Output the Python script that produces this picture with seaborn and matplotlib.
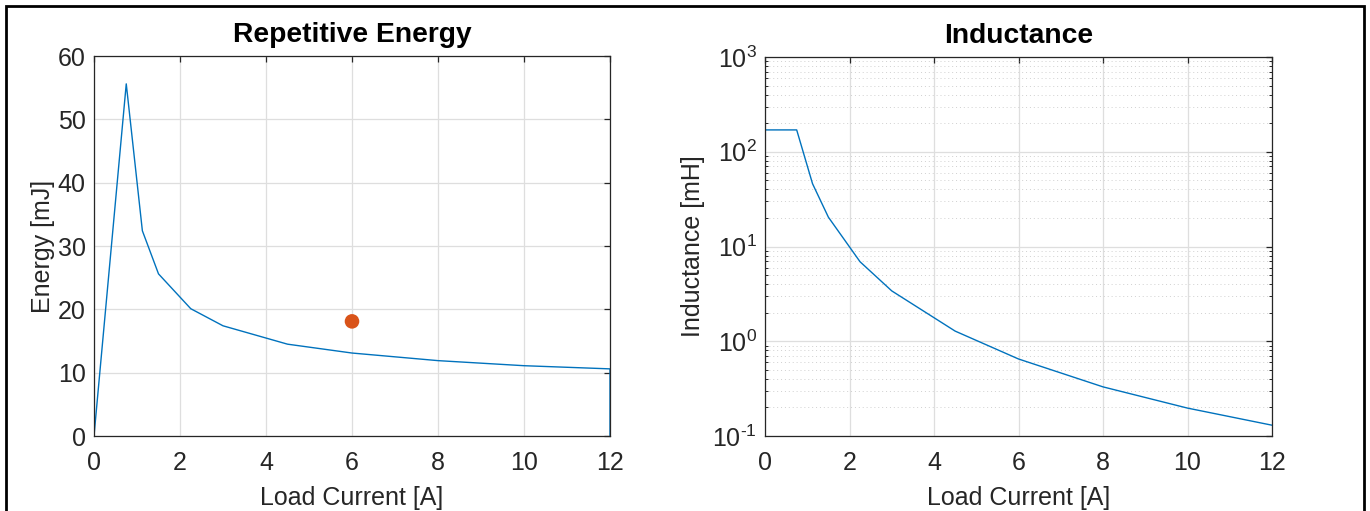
import numpy as np
import pandas as pd
import seaborn as sns
import matplotlib
matplotlib.use("Agg")
import matplotlib.pyplot as plt
from matplotlib.patches import Rectangle
from matplotlib.ticker import LogLocator, NullFormatter, FixedLocator, FuncFormatter

# ---- data ----
energy_current = [0, 0.75, 1.125, 1.5, 2.25, 3, 4.5, 6, 8, 10, 12, 12]
energy_mj = [0, 55.6, 32.4, 25.6, 20.1, 17.4, 14.5, 13.1, 11.9, 11.1, 10.6, 0]
point_current = [6]
point_energy = [18.1]

ind_current = [0, 0.75, 1.125, 1.5, 2.25, 3, 4.5, 6, 8, 10, 12]
ind_mh = [170, 170, 46, 20.4, 6.9, 3.4, 1.28, 0.65, 0.33, 0.197, 0.13]

x_ticks = [0, 2, 4, 6, 8, 10, 12]
y_ticks_energy = [0, 10, 20, 30, 40, 50, 60]
y_ticks_ind = [0.1, 1, 10, 100, 1000]

sns.set_style("white")
plt.rcParams['font.family'] = ['Liberation Sans', 'DejaVu Sans']
plt.rcParams['mathtext.fontset'] = 'custom'
plt.rcParams['mathtext.rm'] = 'Liberation Sans'
plt.rcParams['mathtext.it'] = 'Liberation Sans'
plt.rcParams['mathtext.default'] = 'regular'

BLUE = '#0072BD'
ORANGE = '#D95319'
AX = '#262626'
GRID = '#dedede'

fig = plt.figure(figsize=(13.7, 5.11), dpi=100)
ax1 = fig.add_axes([94/1370, 1-436/511, (610-94)/1370, (436-56)/511])
ax2 = fig.add_axes([765/1370, 1-436/511, (1272-765)/1370, (436-57)/511])

df_e = pd.DataFrame({'I': energy_current, 'E': energy_mj})
df_p = pd.DataFrame({'I': point_current, 'E': point_energy})
df_l = pd.DataFrame({'I': ind_current, 'L': ind_mh})

sns.lineplot(data=df_e, x='I', y='E', ax=ax1, color=BLUE, lw=1.0, sort=False, estimator=None)
sns.scatterplot(data=df_p, x='I', y='E', ax=ax1, color=ORANGE, s=110, edgecolor='none', zorder=5)
sns.lineplot(data=df_l, x='I', y='L', ax=ax2, color=BLUE, lw=1.0, sort=False, estimator=None)

FS_T = 18
FS_L = 18
FS_TITLE = 20.3

for ax in (ax1, ax2):
    ax.set_xlim(0, 12)
    ax.set_xticks(x_ticks)
    ax.set_xticklabels([str(v) for v in x_ticks])
    for s in ax.spines.values():
        s.set_color(AX)
        s.set_linewidth(0.9)
        s.set_visible(True)
    ax.tick_params(which='major', direction='in', length=4.5, width=0.9, color=AX,
                   top=True, right=True, labelsize=FS_T, labelcolor=AX)
    ax.tick_params(axis='x', pad=11)
    ax.tick_params(axis='y', pad=6)
    ax.grid(True, which='major', color=GRID, lw=0.9)
    ax.set_axisbelow(True)
    ax.set_xlabel('Load Current [A]', fontsize=FS_L, color=AX, labelpad=8)

ax1.set_ylim(0, 60)
ax1.set_yticks(y_ticks_energy)
ax1.set_ylabel('Energy [mJ]', fontsize=FS_L, color=AX, labelpad=2)
ax1.set_title('Repetitive Energy', fontsize=FS_TITLE, fontweight='bold', color='black', pad=10)


def log_fmt(v, pos):
    e = int(round(np.log10(v)))
    if e < 0:
        return r'$10^{\text{-' + str(-e) + '}}$'
    return r'$10^{' + str(e) + '}$'


ax2.set_yscale('log')
ax2.set_ylim(0.1, 1000)
ax2.yaxis.set_major_locator(FixedLocator(y_ticks_ind))
ax2.yaxis.set_major_formatter(FuncFormatter(log_fmt))
ax2.yaxis.set_minor_locator(LogLocator(base=10, subs=np.arange(2, 10), numticks=20))
ax2.yaxis.set_minor_formatter(NullFormatter())
ax2.tick_params(which='minor', axis='y', direction='in', length=2.5, width=0.7, color=AX, right=True, left=True)
ax2.grid(True, which='minor', axis='y', color='#d0d0d0', lw=0.7, ls=(0, (1, 3)))
ax2.set_ylabel('Inductance [mH]', fontsize=FS_L, color=AX, labelpad=5)
ax2.set_title('Inductance', fontsize=FS_TITLE, fontweight='bold', color='black', pad=10)

# figure border
fig.patches.append(Rectangle((6/1370, -0.2), (1364-6)/1370, 1.2 - 6/511, transform=fig.transFigure,
                             fill=False, edgecolor='black', lw=2.0, zorder=10))

fig.savefig('out.png', dpi=100)
